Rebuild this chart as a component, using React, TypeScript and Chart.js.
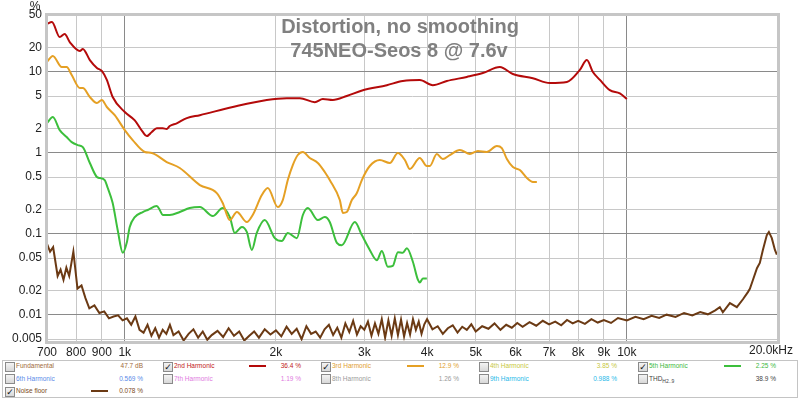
import React, { useEffect, useRef } from "react";
import { Chart, registerables } from "chart.js";

Chart.register(...registerables);

const X_TICKS = [700, 800, 900, 1000, 2000, 3000, 4000, 5000, 6000, 7000, 8000, 9000, 10000, 20000];
const X_TICK_LABELS = ["700", "800", "900", "1k", "2k", "3k", "4k", "5k", "6k", "7k", "8k", "9k", "10k", "20.0kHz"];
const Y_TICKS = [50, 20, 10, 5, 2, 1, 0.5, 0.2, 0.1, 0.05, 0.02, 0.01, 0.005];
const Y_TICK_LABELS = ["50", "20", "10", "5", "2", "1", "0.5", "0.2", "0.1", "0.05", "0.02", "0.01", "0.005"];

const TITLE_LINES = ["Distortion, no smoothing", "745NEO-Seos 8 @ 7.6v"];

// 2nd harmonic (%)
const H2_FREQ = [700, 716, 742, 759, 777, 814, 825, 852, 880, 900, 921, 946, 1000, 1047, 1086, 1106, 1132, 1158, 1190, 1212, 1229, 1269, 1329, 1411, 1641, 1918, 2102, 2232, 2391, 2480, 2596, 2768, 2980, 3326, 3579, 3869, 4107, 4379, 4800, 5166, 5585, 5928, 6497, 7024, 7595, 8061, 8324, 8558, 8838, 9250, 9685, 10000];
const H2_VAL = [38.7, 41, 26.7, 29.1, 23.2, 18.0, 19.0, 13.9, 11.1, 10.2, 7.9, 4.86, 3.17, 2.5, 1.8, 1.6, 1.8, 2.0, 2.0, 1.96, 2.13, 2.3, 2.67, 2.9, 3.66, 4.47, 4.7, 4.7, 4.2, 4.6, 4.47, 5.0, 5.9, 6.8, 7.66, 7.9, 6.8, 7.66, 8.6, 9.6, 11.4, 9.35, 8.3, 7.23, 7.45, 10.5, 13.9, 9.9, 7.9, 5.9, 5.4, 4.6];

// 3rd harmonic (%)
const H3_FREQ = [700, 719, 749, 766, 784, 814, 825, 852, 880, 900, 921, 955, 1000, 1037, 1096, 1132, 1212, 1287, 1411, 1525, 1567, 1619, 1672, 1750, 1798, 1875, 1927, 2017, 2064, 2112, 2161, 2211, 2263, 2336, 2424, 2502, 2560, 2681, 2719, 2768, 2833, 2899, 2966, 3076, 3221, 3373, 3499, 3613, 3696, 3869, 3996, 4051, 4183, 4300, 4440, 4649, 4868, 5050, 5260, 5508, 5636, 5768, 5930, 6122, 6322, 6500, 6618];
const H3_VAL = [13.2, 15.6, 11.4, 11.4, 9.08, 6.28, 6.28, 4.86, 4.1, 4.47, 3.66, 2.9, 1.9, 1.43, 1.02, 0.99, 0.766, 0.646, 0.398, 0.317, 0.239, 0.147, 0.185, 0.139, 0.17, 0.3, 0.366, 0.213, 0.26, 0.459, 0.703, 0.935, 1.02, 0.859, 0.745, 0.577, 0.459, 0.26, 0.18, 0.185, 0.26, 0.317, 0.459, 0.684, 0.811, 0.745, 0.99, 0.811, 0.628, 0.859, 0.684, 0.684, 0.962, 0.834, 0.935, 1.08, 0.962, 1.05, 1.02, 1.21, 1.14, 0.834, 0.664, 0.61, 0.486, 0.434, 0.434];

// 5th harmonic (%)
const H5_FREQ = [700, 719, 742, 766, 784, 806, 825, 852, 880, 892, 912, 925, 946, 968, 991, 1009, 1023, 1047, 1086, 1111, 1158, 1174, 1190, 1229, 1287, 1347, 1411, 1497, 1567, 1619, 1656, 1711, 1750, 1791, 1832, 1900, 1990, 2054, 2112, 2201, 2263, 2315, 2424, 2502, 2560, 2645, 2706, 2872, 2966, 3076, 3177, 3251, 3342, 3419, 3499, 3579, 3646, 3748, 3835, 3869, 3923, 3996];
const H5_VAL = [2.32, 2.75, 1.9, 1.56, 1.35, 1.24, 1.17, 0.745, 0.5, 0.486, 0.459, 0.366, 0.239, 0.111, 0.058, 0.077, 0.121, 0.16, 0.185, 0.196, 0.219, 0.196, 0.17, 0.17, 0.185, 0.207, 0.213, 0.165, 0.207, 0.16, 0.102, 0.121, 0.105, 0.063, 0.102, 0.147, 0.088, 0.081, 0.102, 0.088, 0.17, 0.207, 0.147, 0.16, 0.139, 0.077, 0.072, 0.139, 0.096, 0.063, 0.047, 0.061, 0.039, 0.04, 0.059, 0.058, 0.066, 0.045, 0.027, 0.025, 0.028, 0.028];

// Noise floor (%)
const NOISE_FREQ = [700, 710, 720, 735, 745, 755, 765, 775, 790, 805, 820, 835, 850, 870, 890, 910, 930, 950, 970, 990, 1010, 1030, 1050, 1070, 1090, 1110, 1130, 1150, 1170, 1190, 1210, 1230, 1250, 1280, 1310, 1340, 1370, 1400, 1430, 1460, 1490, 1530, 1570, 1610, 1650, 1690, 1730, 1770, 1810, 1850, 1900, 1950, 2000, 2050, 2100, 2150, 2200, 2250, 2300, 2350, 2400, 2450, 2500, 2550, 2600, 2650, 2700, 2750, 2800, 2850, 2900, 2950, 3000, 3050, 3100, 3150, 3200, 3250, 3300, 3350, 3400, 3450, 3500, 3550, 3600, 3650, 3700, 3750, 3800, 3850, 3900, 3950, 4000, 4100, 4200, 4300, 4400, 4500, 4600, 4700, 4800, 4900, 5000, 5150, 5300, 5450, 5600, 5750, 5900, 6050, 6200, 6400, 6600, 6800, 7000, 7200, 7400, 7600, 7800, 8000, 8250, 8500, 8750, 9000, 9300, 9600, 10000, 10400, 10800, 11200, 11600, 12000, 12500, 13000, 13500, 14000, 14500, 15000, 15316, 15530, 16040, 16560, 17030, 17420, 17580, 17820, 18160, 18400, 18660, 19000, 19180, 19440, 19720, 19895];
const NOISE_VAL = [0.075, 0.06, 0.068, 0.03, 0.036, 0.027, 0.038, 0.03, 0.06, 0.021, 0.023, 0.016, 0.012, 0.013, 0.0105, 0.011, 0.009, 0.0095, 0.0098, 0.0085, 0.009, 0.0075, 0.0095, 0.0065, 0.006, 0.0075, 0.0055, 0.0068, 0.0052, 0.0065, 0.0058, 0.0075, 0.0056, 0.0062, 0.0048, 0.0058, 0.0066, 0.0052, 0.0062, 0.0049, 0.0056, 0.0063, 0.0053, 0.0068, 0.0055, 0.0062, 0.0048, 0.0055, 0.0062, 0.0052, 0.0066, 0.0057, 0.0064, 0.0054, 0.0071, 0.0058, 0.0067, 0.005, 0.0072, 0.0058, 0.0062, 0.0052, 0.0066, 0.0075, 0.0056, 0.0069, 0.0052, 0.0078, 0.0061, 0.0084, 0.0057, 0.0072, 0.0065, 0.0082, 0.0055, 0.0078, 0.0058, 0.0088, 0.0052, 0.0085, 0.0055, 0.009, 0.0056, 0.0087, 0.0054, 0.0079, 0.0057, 0.0088, 0.0065, 0.0082, 0.0058, 0.0076, 0.0088, 0.0066, 0.0072, 0.0058, 0.0068, 0.0074, 0.006, 0.0071, 0.0065, 0.0076, 0.0062, 0.0072, 0.0067, 0.0078, 0.0065, 0.0075, 0.0069, 0.0079, 0.0071, 0.0081, 0.0073, 0.0084, 0.0076, 0.0082, 0.0074, 0.0086, 0.0078, 0.0084, 0.0077, 0.0088, 0.008, 0.0086, 0.0079, 0.0091, 0.0085, 0.0094, 0.0088, 0.0097, 0.0091, 0.01, 0.0094, 0.0105, 0.0098, 0.0108, 0.0101, 0.0113, 0.0124, 0.0107, 0.0139, 0.0124, 0.0155, 0.019, 0.0209, 0.0266, 0.0374, 0.0435, 0.063, 0.096, 0.105, 0.088, 0.063, 0.055];

const COLORS = {
  h2: "#b40a0a",
  h3: "#e5a024",
  h5: "#3cbf3c",
  noise: "#6b3a14",
};

type LegendItem = { checked: boolean; label: string; sub?: string; color: string; value: string; line?: string };
const LEGEND_ROWS: LegendItem[][] = [
  [
    { checked: false, label: "Fundamental", color: "#a06a38", value: "47.7 dB" },
    { checked: true, label: "2nd Harmonic", color: "#c01818", value: "36.4 %", line: COLORS.h2 },
    { checked: true, label: "3rd Harmonic", color: "#e0a030", value: "12.9 %", line: COLORS.h3 },
    { checked: false, label: "4th Harmonic", color: "#c8c840", value: "3.85 %" },
    { checked: true, label: "5th Harmonic", color: "#40b840", value: "2.25 %", line: COLORS.h5 },
  ],
  [
    { checked: false, label: "6th Harmonic", color: "#5a8ae8", value: "0.569 %" },
    { checked: false, label: "7th Harmonic", color: "#e07ae0", value: "1.19 %" },
    { checked: false, label: "8th Harmonic", color: "#9a9a9a", value: "1.26 %" },
    { checked: false, label: "9th Harmonic", color: "#28b8e8", value: "0.988 %" },
    { checked: false, label: "THD", sub: "H2..9", color: "#444444", value: "38.9 %" },
  ],
  [{ checked: true, label: "Noise floor", color: "#7a4a22", value: "0.078 %", line: COLORS.noise }],
];
const COL_X = [4, 162, 320, 478, 637];
const ROW_Y = [366, 378.5, 391];

function pts(f: number[], v: number[]) {
  return f.map((x, i) => ({ x, y: v[i] }));
}

const FONT = '"Liberation Sans", Arial, sans-serif';

const overlayPlugin = {
  id: "overlay",
  beforeDatasetsDraw(chart: any) {
    const { ctx } = chart;
    ctx.save();
    ctx.font = `bold 20px ${FONT}`;
    ctx.fillStyle = "#808080";
    ctx.textAlign = "center";
    ctx.textBaseline = "alphabetic";
    ctx.fillText(TITLE_LINES[0], 400, 33);
    ctx.fillText(TITLE_LINES[1], 399, 56.5);
    ctx.restore();
  },
  afterDraw(chart: any) {
    const { ctx, chartArea: a } = chart;
    ctx.save();
    ctx.strokeStyle = "#c6c6c6";
    ctx.lineWidth = 3;
    ctx.strokeRect(a.left - 0.5, a.top - 0.5, a.right - a.left + 1, a.bottom - a.top + 1);
    ctx.fillStyle = "#222";
    ctx.font = `12px ${FONT}`;
    ctx.textAlign = "center";
    ctx.textBaseline = "alphabetic";
    ctx.fillText("%", 35, 10);
    const xs = chart.scales.x;
    ctx.textAlign = "right";
    ctx.textBaseline = "top";
    ctx.fillText(X_TICK_LABELS[X_TICK_LABELS.length - 1], 793, a.bottom + 3);
    void xs;
    ctx.restore();
  },
};

function CheckBox({ checked }: { checked: boolean }) {
  return (
    <span
      style={{
        position: "absolute",
        left: 0,
        top: -4.5,
        width: 8,
        height: 8,
        border: "1px solid #8a8a8a",
        background: "linear-gradient(#f4f4f4, #d8d8d8)",
        fontSize: 9,
        lineHeight: "8px",
        textAlign: "center",
        color: "#111",
        fontFamily: "DejaVu Sans, sans-serif",
      }}
    >
      {checked ? "✓" : ""}
    </span>
  );
}

function Legend() {
  return (
    <div
      style={{
        position: "absolute",
        left: 2,
        top: 360,
        width: 794,
        height: 36,
        border: "1px solid #c4c4c4",
        background: "#fff",
      }}
    >
      {LEGEND_ROWS.map((row, r) =>
        row.map((it, c) => (
          <div
            key={`${r}-${c}`}
            style={{ position: "absolute", left: COL_X[c] - 2, top: ROW_Y[r] - 361, width: 150, height: 0 }}
          >
            <CheckBox checked={it.checked} />
            <span
              style={{
                position: "absolute",
                left: 11,
                top: -5,
                fontSize: 6.5,
                lineHeight: "9px",
                whiteSpace: "nowrap",
                color: it.color,
                fontFamily: FONT,
              }}
            >
              {it.label}
              {it.sub ? <sub style={{ fontSize: 5 }}>{it.sub}</sub> : null}
            </span>
            {it.line ? (
              <span
                style={{
                  position: "absolute",
                  left: 86,
                  top: -1,
                  width: 17,
                  height: 2,
                  background: it.line,
                }}
              />
            ) : null}
            <span
              style={{
                position: "absolute",
                right: 12,
                top: -5,
                fontSize: 6.5,
                lineHeight: "9px",
                whiteSpace: "nowrap",
                color: it.color,
                fontFamily: FONT,
              }}
            >
              {it.value}
            </span>
          </div>
        ))
      )}
    </div>
  );
}

export default function App() {
  const ref = useRef<HTMLCanvasElement | null>(null);
  useEffect(() => {
    if (!ref.current) return;
    const lineDs = (label: string, data: any[], color: string, smooth: boolean) => ({
      label,
      data,
      borderColor: color,
      backgroundColor: color,
      borderWidth: 2,
      pointRadius: 0,
      fill: false,
      cubicInterpolationMode: smooth ? ("monotone" as const) : ("default" as const),
      tension: 0,
    });
    const chart = new Chart(ref.current, {
      type: "line",
      data: {
        datasets: [
          lineDs("2nd Harmonic", pts(H2_FREQ, H2_VAL), COLORS.h2, true),
          lineDs("3rd Harmonic", pts(H3_FREQ, H3_VAL), COLORS.h3, true),
          lineDs("5th Harmonic", pts(H5_FREQ, H5_VAL), COLORS.h5, true),
          lineDs("Noise floor", pts(NOISE_FREQ, NOISE_VAL), COLORS.noise, false),
        ],
      },
      options: {
        animation: false,
        responsive: false,
        devicePixelRatio: 1,
        parsing: false as any,
        normalized: true,
        layout: { padding: { left: 0, top: 15, right: 22, bottom: 37 } },
        plugins: { legend: { display: false }, tooltip: { enabled: false }, title: { display: false } },
        scales: {
          x: {
            type: "logarithmic",
            min: 700,
            max: 20000,
            afterBuildTicks: (s: any) => {
              s.ticks = X_TICKS.map((v) => ({ value: v }));
            },
            afterFit: (s: any) => {
              s.height = 20;
            },
            ticks: {
              autoSkip: false,
              maxRotation: 0,
              minRotation: 0,
              padding: 3,
              color: "#222",
              font: { family: FONT, size: 12 },
              callback: (v: any) => {
                const i = X_TICKS.indexOf(Number(v));
                if (i === X_TICKS.length - 1) return "";
                return i >= 0 ? X_TICK_LABELS[i] : "";
              },
            },
            grid: {
              drawTicks: false,
              lineWidth: 1,
              color: (c: any) => {
                const v = c.tick ? c.tick.value : 0;
                return v === 1000 || v === 10000 ? "#8a8a8a" : "#c8c8c8";
              },
            },
            border: { display: false },
          },
          y: {
            type: "logarithmic",
            min: 0.0046,
            max: 50,
            afterBuildTicks: (s: any) => {
              s.ticks = Y_TICKS.map((v) => ({ value: v }));
            },
            afterFit: (s: any) => {
              s.width = 47;
            },
            ticks: {
              autoSkip: false,
              padding: 5,
              color: "#222",
              font: { family: FONT, size: 12 },
              callback: (v: any) => {
                const i = Y_TICKS.indexOf(Number(v));
                return i >= 0 ? Y_TICK_LABELS[i] : "";
              },
            },
            grid: {
              drawTicks: false,
              lineWidth: 1,
              color: (c: any) => {
                const v = c.tick ? c.tick.value : 0;
                return v === 0.01 || v === 0.1 || v === 1 || v === 10 ? "#8a8a8a" : "#c8c8c8";
              },
            },
            border: { display: false },
          },
        },
      },
      plugins: [overlayPlugin],
    });
    return () => chart.destroy();
  }, []);

  return (
    <div style={{ position: "fixed", left: 0, top: 0, width: 800, height: 399, background: "#fff", overflow: "hidden" }}>
      <canvas ref={ref} width={800} height={399} style={{ position: "absolute", left: 0, top: 0, width: 800, height: 399 }} />
      <Legend />
    </div>
  );
}
